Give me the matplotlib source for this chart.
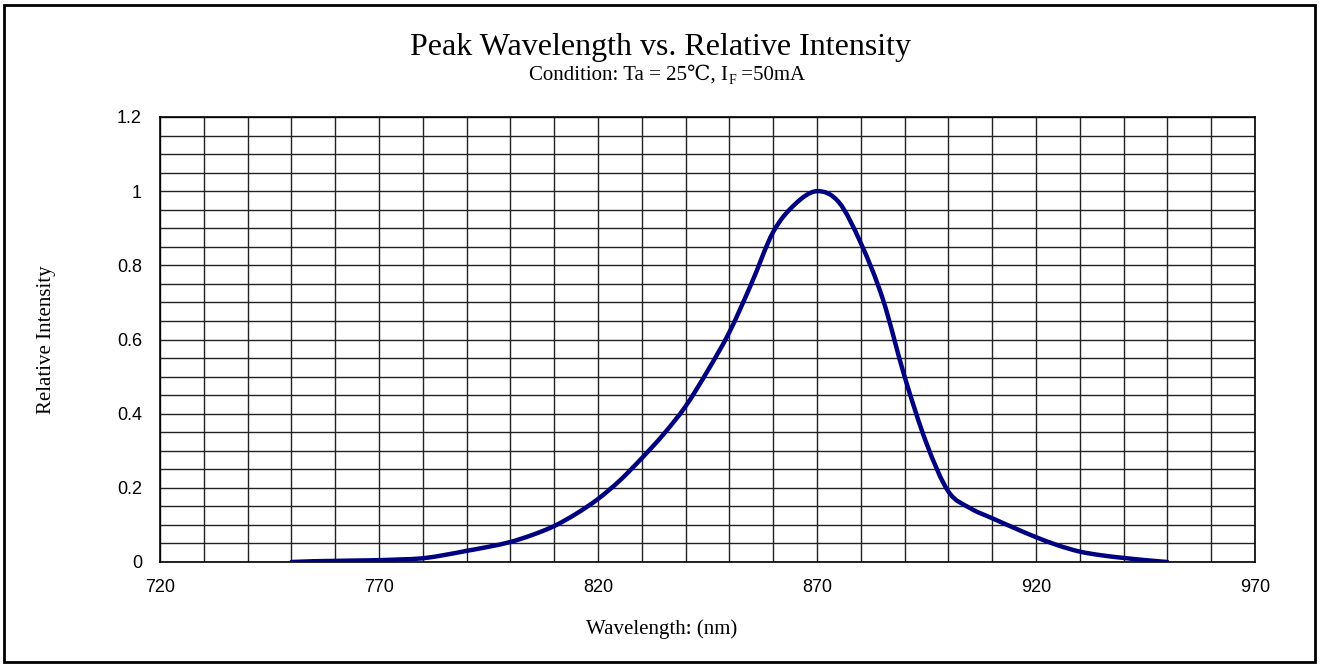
import numpy as np
import matplotlib
matplotlib.use("Agg")
import matplotlib.pyplot as plt
from matplotlib.patches import Rectangle, PathPatch
from matplotlib.path import Path
from matplotlib.ticker import MultipleLocator, FixedLocator, FuncFormatter

# spectrum, every 5 nm
wavelength = list(range(750, 951, 5))
intensity = [0.0, 0.002, 0.003, 0.004, 0.005, 0.007, 0.01, 0.019, 0.03,
             0.041, 0.054, 0.073, 0.097, 0.13, 0.17, 0.22, 0.28, 0.345,
             0.42, 0.515, 0.62, 0.75, 0.89, 0.965, 1.0, 0.97, 0.86, 0.71,
             0.5, 0.32, 0.19, 0.145, 0.118, 0.092, 0.067, 0.045, 0.028,
             0.018, 0.011, 0.005, 0.0]

x_ticks = [720, 770, 820, 870, 920, 970]
y_ticks = [0, 0.2, 0.4, 0.6, 0.8, 1.0, 1.2]

serif = ['Liberation Serif', 'DejaVu Serif']
sans = ['Liberation Sans', 'DejaVu Sans']


def smooth_path(xs, ys):
    """Excel-style smoothed line: Catmull-Rom segments as cubic Beziers."""
    p = np.column_stack([xs, ys]).astype(float)
    n = len(p)
    verts = [p[0]]
    codes = [Path.MOVETO]
    for i in range(n - 1):
        p0 = p[i - 1] if i > 0 else p[i]
        p3 = p[i + 2] if i + 2 < n else p[i + 1]
        c1 = p[i] + (p[i + 1] - p0) / 6
        c2 = p[i + 1] - (p3 - p[i]) / 6
        verts += [c1, c2, p[i + 1]]
        codes += [Path.CURVE4] * 3
    return Path(verts, codes)


W, H = 1322, 664
fig = plt.figure(figsize=(W / 100, H / 100), dpi=100)
ax = fig.add_axes([160 / W, 1 - 562 / H, 1095 / W, 445 / H])

ax.add_patch(PathPatch(smooth_path(wavelength, intensity), fill=False,
                       edgecolor='#000080', linewidth=3.2,
                       capstyle='round', zorder=3))

ax.set_xlim(720, 970)
ax.set_ylim(0, 1.2)
ax.xaxis.set_major_locator(FixedLocator(x_ticks))
ax.xaxis.set_minor_locator(MultipleLocator(10))
ax.yaxis.set_major_locator(FixedLocator(y_ticks))
ax.yaxis.set_minor_locator(MultipleLocator(0.05))
ax.yaxis.set_major_formatter(FuncFormatter(lambda v, _: f"{v:g}"))
ax.grid(True, which='both', color='#222222', linewidth=1.0)
ax.tick_params(which='both', length=0)
ax.tick_params(axis='y', pad=13, labelsize=13)
ax.tick_params(axis='x', pad=12, labelsize=13)
for lab in ax.get_xticklabels() + ax.get_yticklabels():
    lab.set_family(sans)
for sp in ax.spines.values():
    sp.set_color('black')
    sp.set_linewidth(1.2)

ax.set_xlabel('Wavelength: (nm)', family=serif, fontsize=15, va='center')
ax.xaxis.set_label_coords((662 - 160) / 1095, (562 - 629) / 445)
ax.set_ylabel('Relative Intensity', family=serif, fontsize=15, va='center')
ax.yaxis.set_label_coords((47 - 160) / 1095, 0.5)

fig.text(0.5, 1 - 47 / H, 'Peak Wavelength vs. Relative Intensity',
         family=serif, fontsize=23, ha='center', va='center')

# subtitle with a subscript F, built from pieces and centred afterwards
r = fig.canvas.get_renderer()
base_y = 1 - 80 / H
t1 = fig.text(0.4, base_y, 'Condition: Ta = 25℃, I', family=serif,
              fontsize=15, va='baseline')
bb1 = t1.get_window_extent(r)
t2 = fig.text(bb1.x1 / W, base_y - 4 / H, 'F', family=serif, fontsize=10,
              va='baseline')
bb2 = t2.get_window_extent(r)
t3 = fig.text(bb2.x1 / W, base_y, ' =50mA', family=serif, fontsize=15,
              va='baseline')
bb3 = t3.get_window_extent(r)
shift = (667 - (bb1.x0 + bb3.x1) / 2) / W
for t in (t1, t2, t3):
    x, y = t.get_position()
    t.set_position((x + shift, y))

fig.patches.append(Rectangle((0.003, 0.003), 0.992, 0.990,
                             transform=fig.transFigure, fill=False,
                             edgecolor='black', linewidth=2.0))

fig.savefig('out.png', dpi=100)
